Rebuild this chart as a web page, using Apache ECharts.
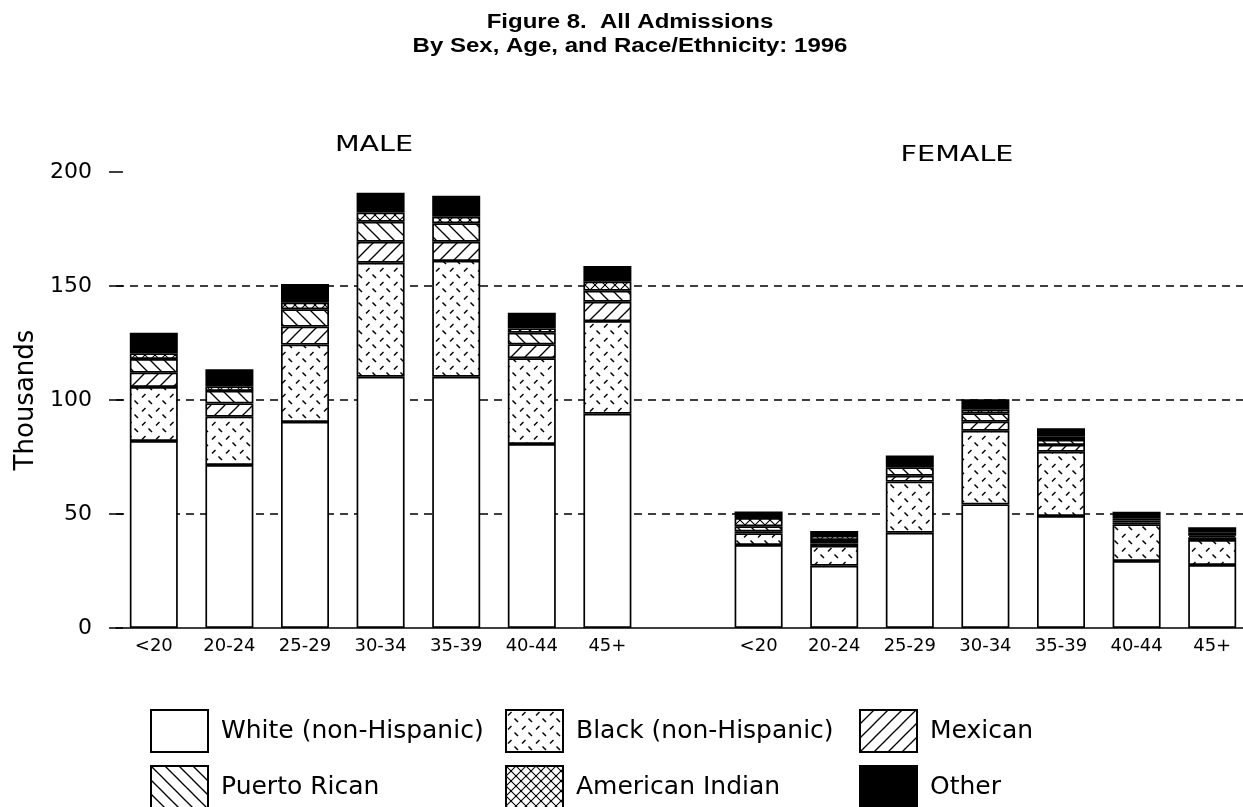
<!DOCTYPE html>
<html>
<head>
<meta charset="utf-8">
<script src="https://cdn.jsdelivr.net/npm/echarts@6/dist/echarts.min.js"></script>
<style>html,body{margin:0;padding:0;background:#fff;}#chart{width:1243px;height:807px;}</style>
</head>
<body>
<div id="chart"></div>
<script>
// ---- data (thousands) ----
const ageGroups = ['<20', '20-24', '25-29', '30-34', '35-39', '40-44', '45+'];
const raceNames = ['White (non-Hispanic)', 'Black (non-Hispanic)', 'Mexican', 'Puerto Rican', 'American Indian', 'Other'];

const whiteMale    = [82, 71.5, 90.4, 110.2, 110.2, 80.7, 94];
const blackMale    = [23.7, 21.2, 33.9, 50, 50.8, 37.6, 40.6];
const mexicanMale  = [6.3, 5.8, 7.9, 9.2, 8.4, 6.1, 8.5];
const puertoMale   = [6, 5.5, 7.6, 8.8, 8.1, 5.1, 4.8];
const amIndianMale = [2.5, 2, 2.9, 4, 2.9, 1.9, 4];
const otherMale    = [9, 7.5, 8.2, 8.7, 9.2, 6.9, 6.9];

const whiteFemale    = [36.4, 27.3, 41.8, 54.2, 49.1, 29.4, 27.6];
const blackFemale    = [5.1, 8.7, 22.4, 32.3, 28.2, 16.1, 11];
const mexicanFemale  = [0.9, 1.1, 2.6, 4, 3, 0.8, 1.2];
const puertoFemale   = [2.2, 1.5, 3.7, 3.7, 2.2, 0.8, 0.7];
const amIndianFemale = [3.6, 1.8, 1, 1.7, 1.4, 1, 1.5];
const otherFemale    = [2.9, 2.1, 4.2, 4.4, 3.7, 2.9, 2.2];

const yTicks = [0, 50, 100, 150, 200];

const titleLine1 = 'Figure 8.  All Admissions';
const titleLine2 = 'By Sex, Age, and Race/Ethnicity: 1996';

// ---- patterns ----
function makePattern(w, h, draw) {
  const c = document.createElement('canvas');
  c.width = w; c.height = h;
  const ctx = c.getContext('2d');
  ctx.fillStyle = '#fff';
  ctx.fillRect(0, 0, w, h);
  ctx.strokeStyle = '#000';
  ctx.fillStyle = '#000';
  draw(ctx, w, h);
  return { image: c, repeat: 'repeat' };
}
function line(ctx, x1, y1, x2, y2, lw) {
  ctx.lineWidth = lw; ctx.beginPath(); ctx.moveTo(x1, y1); ctx.lineTo(x2, y2); ctx.stroke();
}
const patWhite = '#ffffff';
const patBlack = makePattern(14, 14, (ctx) => {
  line(ctx, 2, 5.5, 5.5, 2, 1.5);
  line(ctx, 8.5, 8.5, 12, 12, 1.5);
});
const patMexican = makePattern(14, 14, (ctx, w, h) => {
  for (const o of [-w, 0, w]) line(ctx, o - 1, h + 1, o + w + 1, -1, 1.3);
});
const patPuerto = makePattern(14, 14, (ctx, w, h) => {
  for (const o of [-w, 0, w]) line(ctx, o - 1, -1, o + w + 1, h + 1, 1.3);
});
const patAmIndian = makePattern(10, 10, (ctx, w, h) => {
  for (const o of [-w, 0, w]) {
    line(ctx, o - 1, h + 1, o + w + 1, -1, 1.1);
    line(ctx, o - 1, -1, o + w + 1, h + 1, 1.1);
  }
  ctx.fillRect(4, 4, 2, 2);
  ctx.fillRect(-1, -1, 2, 2); ctx.fillRect(9, -1, 2, 2); ctx.fillRect(-1, 9, 2, 2); ctx.fillRect(9, 9, 2, 2);
});
const patOther = '#000000';

const fills = [patWhite, patBlack, patMexican, patPuerto, patAmIndian, patOther];
const maleSets = [whiteMale, blackMale, mexicanMale, puertoMale, amIndianMale, otherMale];
const femaleSets = [whiteFemale, blackFemale, mexicanFemale, puertoFemale, amIndianFemale, otherFemale];

const xCats = ageGroups.concat([''], ageGroups);

const series = raceNames.map((name, i) => ({
  name: name,
  type: 'bar',
  stack: 'total',
  barWidth: 48,
  data: maleSets[i].concat([null], femaleSets[i]),
  itemStyle: { color: fills[i], borderColor: '#000', borderWidth: 1.7 },
  emphasis: { disabled: true }
}));

const legendPos = [
  [150, 709], [505, 709], [859, 709],
  [150, 765], [505, 765], [859, 765]
];
const legends = raceNames.map((name, i) => ({
  data: [name],
  left: legendPos[i][0],
  top: legendPos[i][1],
  orient: 'horizontal',
  icon: 'rect',
  itemWidth: 57,
  itemHeight: 42,
  selectedMode: false,
  padding: 0,
  textStyle: { fontFamily: 'DejaVu Sans', fontSize: 25, color: '#000', padding: [0, 0, 0, 8] }
}));

const titleFont = { fontFamily: 'Liberation Sans', fontWeight: 'bold', fontSize: 20, fill: '#000', textAlign: 'center', textVerticalAlign: 'middle' };

const chart = echarts.init(document.getElementById('chart'), null, { renderer: 'canvas' });
chart.setOption({
  animation: false,
  backgroundColor: '#fff',
  legend: legends,
  graphic: [
    { type: 'text', x: 630, y: 22, scaleX: 1.2, style: Object.assign({ text: titleLine1 }, titleFont) },
    { type: 'text', x: 630, y: 46, scaleX: 1.2, style: Object.assign({ text: titleLine2 }, titleFont) },
    { type: 'text', x: 374, y: 145, scaleX: 1.3, style: { text: 'MALE', fontFamily: 'DejaVu Sans', fontSize: 22, fill: '#000', textAlign: 'center', textVerticalAlign: 'middle' } },
    { type: 'text', x: 957, y: 155, scaleX: 1.3, style: { text: 'FEMALE', fontFamily: 'DejaVu Sans', fontSize: 22, fill: '#000', textAlign: 'center', textVerticalAlign: 'middle' } }
  ],
  grid: { left: 116, right: -7, top: 172, bottom: 179, containLabel: false, outerBoundsMode: 'none' },
  xAxis: {
    type: 'category',
    data: xCats,
    axisLine: { show: true, lineStyle: { color: '#000', width: 1.5 } },
    axisTick: { show: false },
    axisLabel: { fontFamily: 'DejaVu Sans', fontSize: 18, color: '#000', margin: 9, interval: 0 },
    splitLine: { show: false }
  },
  yAxis: {
    type: 'value',
    min: yTicks[0], max: yTicks[yTicks.length - 1], interval: 50,
    offset: -7,
    name: 'Thousands',
    nameLocation: 'middle',
    nameRotate: 90,
    nameGap: 84,
    nameTextStyle: { fontFamily: 'DejaVu Sans', fontSize: 26, color: '#000' },
    axisLine: { show: false },
    axisTick: { show: true, length: 14, lineStyle: { color: '#000', width: 1.5 } },
    axisLabel: { fontFamily: 'DejaVu Sans', fontSize: 22, color: '#000', margin: 31 },
    splitLine: { show: true, showMinLine: false, showMaxLine: false, lineStyle: { color: '#000', width: 1.5, type: [8, 6] } }
  },
  series: series
});
</script>
</body>
</html>
